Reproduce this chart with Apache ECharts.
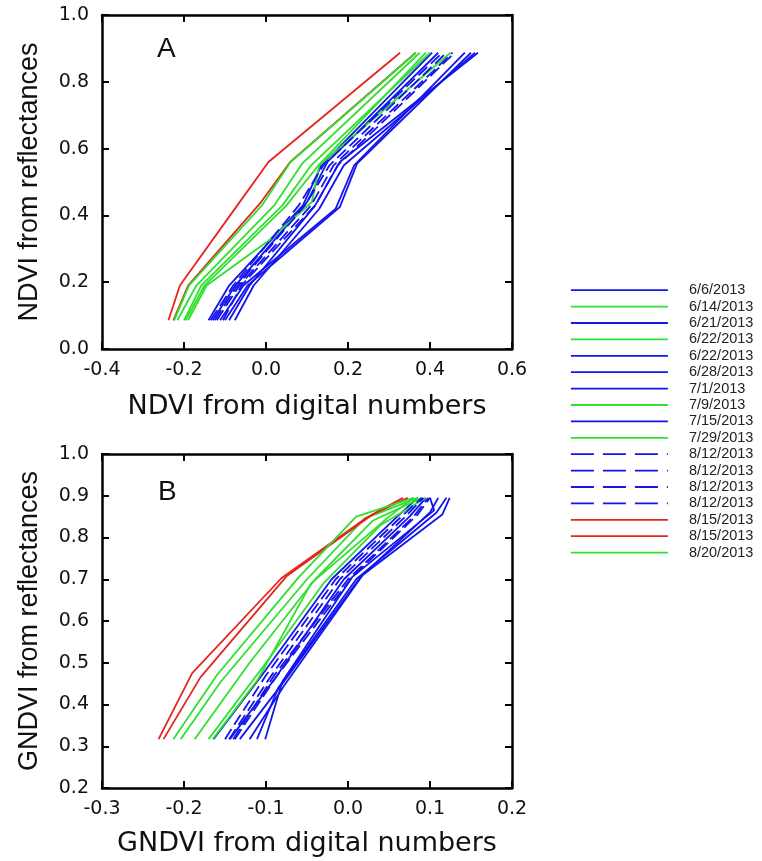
<!DOCTYPE html>
<html>
<head>
<meta charset="utf-8">
<script src="https://cdn.jsdelivr.net/npm/echarts@6/dist/echarts.min.js"></script>
<style>html,body{margin:0;padding:0;background:#fff}#c{width:762px;height:861px}</style>
</head>
<body>
<div id="c"></div>
<script>
// ---- data ----
const dates = ['6/6/2013','6/14/2013','6/21/2013','6/22/2013','6/22/2013','6/28/2013','7/1/2013','7/9/2013','7/15/2013','7/29/2013','8/12/2013','8/12/2013','8/12/2013','8/12/2013','8/15/2013','8/15/2013','8/20/2013'];
const groups = ['blue','green','blue','green','blue','blue','blue','green','blue','green','blueDash','blueDash','blueDash','blueDash','red','red','green'];

// Panel A: [NDVI from digital numbers, NDVI from reflectances]
const ndviPoints = [
  [[-0.140,0.086],[-0.090,0.19],[0.090,0.43],[0.135,0.55],[0.405,0.887]],
  [[-0.216,0.086],[-0.170,0.19],[0.020,0.43],[0.088,0.555],[0.375,0.887]],
  [[-0.130,0.086],[-0.075,0.19],[0.100,0.44],[0.150,0.56],[0.420,0.887]],
  [[-0.200,0.086],[-0.158,0.19],[0.040,0.43],[0.110,0.55],[0.400,0.887]],
  [[-0.112,0.086],[-0.055,0.19],[0.170,0.42],[0.215,0.55],[0.485,0.887]],
  [[-0.100,0.086],[-0.045,0.19],[0.180,0.425],[0.222,0.555],[0.500,0.887]],
  [[-0.090,0.086],[-0.040,0.19],[0.120,0.43],[0.180,0.56],[0.517,0.887]],
  [[-0.190,0.086],[-0.145,0.19],[0.006,0.324],[0.112,0.44],[0.130,0.55],[0.450,0.887]],
  [[-0.076,0.086],[-0.030,0.19],[0.130,0.42],[0.190,0.55],[0.510,0.887]],
  [[-0.196,0.086],[-0.150,0.19],[0.050,0.43],[0.128,0.55],[0.390,0.887]],
  [[-0.135,0.086],[-0.080,0.19],[0.080,0.43],[0.140,0.55],[0.430,0.887]],
  [[-0.125,0.086],[-0.070,0.19],[0.095,0.43],[0.155,0.55],[0.440,0.887]],
  [[-0.120,0.086],[-0.065,0.19],[0.110,0.43],[0.165,0.55],[0.455,0.887]],
  [[-0.105,0.086],[-0.060,0.19],[0.120,0.43],[0.175,0.55],[0.460,0.887]],
  [[-0.238,0.086],[-0.210,0.19],[-0.070,0.43],[0.006,0.56],[0.327,0.887]],
  [[-0.226,0.086],[-0.190,0.19],[-0.012,0.44],[0.059,0.56],[0.365,0.887]],
  [[-0.224,0.086],[-0.188,0.19],[-0.010,0.43],[0.060,0.56],[0.366,0.887]]
];

// Panel B: [GNDVI from digital numbers, GNDVI from reflectances]
const gndviPoints = [
  [[-0.164,0.317],[-0.105,0.47],[-0.020,0.70],[0.060,0.85],[0.085,0.895]],
  [[-0.204,0.317],[-0.155,0.455],[-0.050,0.70],[0.020,0.845],[0.085,0.895]],
  [[-0.144,0.317],[-0.090,0.46],[-0.005,0.70],[0.075,0.85],[0.095,0.895]],
  [[-0.165,0.317],[-0.110,0.46],[-0.045,0.69],[0.050,0.85],[0.080,0.895]],
  [[-0.132,0.317],[-0.080,0.45],[0.015,0.705],[0.100,0.86],[0.110,0.895]],
  [[-0.120,0.317],[-0.078,0.445],[0.018,0.71],[0.115,0.855],[0.124,0.895]],
  [[-0.111,0.317],[-0.085,0.44],[0.010,0.70],[0.108,0.86],[0.120,0.895]],
  [[-0.170,0.317],[-0.100,0.50],[-0.030,0.69],[0.040,0.83],[0.095,0.895]],
  [[-0.101,0.317],[-0.080,0.455],[0.005,0.705],[0.105,0.865],[0.100,0.895]],
  [[-0.187,0.317],[-0.120,0.50],[-0.040,0.70],[0.030,0.84],[0.090,0.895]],
  [[-0.150,0.317],[-0.100,0.47],[-0.015,0.70],[0.065,0.85],[0.090,0.895]],
  [[-0.145,0.317],[-0.095,0.465],[-0.010,0.70],[0.070,0.85],[0.092,0.895]],
  [[-0.140,0.317],[-0.090,0.47],[0.000,0.70],[0.080,0.85],[0.098,0.895]],
  [[-0.138,0.317],[-0.088,0.465],[0.005,0.705],[0.085,0.855],[0.100,0.895]],
  [[-0.231,0.317],[-0.190,0.475],[-0.081,0.703],[0.023,0.848],[0.067,0.895]],
  [[-0.225,0.317],[-0.180,0.465],[-0.075,0.707],[0.030,0.855],[0.073,0.895]],
  [[-0.213,0.317],[-0.160,0.47],[-0.060,0.705],[0.010,0.85],[0.080,0.895]]
];

const ndviXAxis = {min:-0.4, max:0.6, interval:0.2};
const ndviYAxis = {min:0.0, max:1.0, interval:0.2};
const gndviXAxis = {min:-0.3, max:0.2, interval:0.1};
const gndviYAxis = {min:0.2, max:1.0, interval:0.1};

// ---- styles ----
const groupStyle = {
  blue:{color:'#1414ee', type:'solid'},
  green:{color:'#2fe02f', type:'solid'},
  red:{color:'#e52520', type:'solid'},
  blueDash:{color:'#1414ee', type:[12,5]}
};
const fmt = v => (Math.abs(v) < 1e-9 ? 0 : v).toFixed(1);
const tickFont = {fontFamily:'DejaVu Sans', fontSize:19, color:'#111'};
const axisLine = {show:true, onZero:false, lineStyle:{color:'#000', width:2.5}};
const axisTick = {show:true, inside:true, length:7, lineStyle:{color:'#000', width:2}};

function xAxes(cfg, grid, name, gap) {
  return [
    {type:'value', gridIndex:grid, position:'bottom', min:cfg.min, max:cfg.max, interval:cfg.interval,
     axisLine, axisTick, splitLine:{show:false},
     axisLabel:Object.assign({margin:12, formatter:fmt, showMinLabel:true, showMaxLabel:true}, tickFont),
     name, nameLocation:'middle', nameGap:gap,
     nameTextStyle:{fontFamily:'DejaVu Sans', fontSize:27, color:'#111'}},
    {type:'value', gridIndex:grid, position:'top', min:cfg.min, max:cfg.max, interval:cfg.interval,
     axisLine, axisTick, splitLine:{show:false}, axisLabel:{show:false}}
  ];
}
function yAxes(cfg, grid, name) {
  return [
    {type:'value', gridIndex:grid, position:'left', min:cfg.min, max:cfg.max, interval:cfg.interval,
     axisLine, axisTick, splitLine:{show:false},
     axisLabel:Object.assign({margin:13, formatter:fmt, showMinLabel:true, showMaxLabel:true}, tickFont),
     name, nameLocation:'middle', nameGap:59, nameRotate:90,
     nameTextStyle:{fontFamily:'Liberation Sans', fontSize:27, color:'#111'}},
    {type:'value', gridIndex:grid, position:'right', min:cfg.min, max:cfg.max, interval:cfg.interval,
     axisLine, axisTick, splitLine:{show:false}, axisLabel:{show:false}}
  ];
}

const uniq = dates.map((d, i) => d + '|' + i);
const series = [];
[[ndviPoints, 0], [gndviPoints, 2]].forEach(([pts, axIdx]) => {
  pts.forEach((p, i) => {
    const st = groupStyle[groups[i]];
    series.push({
      type:'line', name:uniq[i], xAxisIndex:axIdx, yAxisIndex:axIdx,
      data:p, symbol:'none', silent:true, animation:false,
      itemStyle:{color:st.color},
      lineStyle:{color:st.color, width:1.8, type:st.type}
    });
  });
});

const chart = echarts.init(document.getElementById('c'), null, {renderer:'canvas'});
chart.setOption({
  backgroundColor:'#fff',
  animation:false,
  grid:[
    {left:102, top:15, width:410, height:334},
    {left:102, top:454, width:410, height:334}
  ],
  xAxis:[...xAxes(ndviXAxis, 0, 'NDVI from digital numbers', 44), ...xAxes(gndviXAxis, 1, 'GNDVI from digital numbers', 42)],
  yAxis:[...yAxes(ndviYAxis, 0, 'NDVI from reflectances'), ...yAxes(gndviYAxis, 1, 'GNDVI from reflectances')],
  graphic:[
    {type:'text', left:157, top:35, style:{text:'A', fontFamily:'Liberation Sans', fontSize:28, fill:'#111'}},
    {type:'text', left:158, top:478, style:{text:'B', fontFamily:'Liberation Sans', fontSize:28, fill:'#111'}}
  ],
  legend:{
    orient:'vertical', left:570, top:282, padding:0, itemWidth:97, itemHeight:16.4, itemGap:0,
    selectedMode:false,
    itemStyle:{opacity:0},
    data:uniq.map((n, i) => {
      const st = groupStyle[groups[i]];
      return {name:n, itemStyle:{opacity:0},
              lineStyle:{color:st.color, width:1.8, type: groups[i]==='blueDash' ? [23,9] : 'solid'}};
    }),
    formatter: n => n.split('|')[0],
    textStyle:{fontFamily:'Liberation Sans', fontSize:14.5, lineHeight:16.4, color:'#222', padding:[0,0,0,16]}
  },
  series
});
</script>
</body>
</html>
